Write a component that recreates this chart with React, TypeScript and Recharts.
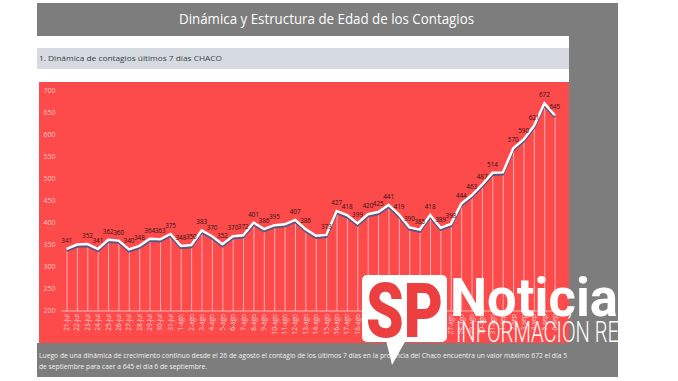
import { ComposedChart, Bar, Line, XAxis, YAxis, LabelList } from 'recharts'

// fechas del eje X
const DATES = [
  '21-jul', '22-jul', '23-jul', '24-jul', '25-jul', '26-jul', '27-jul', '28-jul', '29-jul', '30-jul', '31-jul',
  '1-ago', '2-ago', '3-ago', '4-ago', '5-ago', '6-ago', '7-ago', '8-ago', '9-ago', '10-ago',
  '11-ago', '12-ago', '13-ago', '14-ago', '15-ago', '16-ago', '17-ago', '18-ago', '19-ago', '20-ago',
  '21-ago', '22-ago', '23-ago', '24-ago', '25-ago', '26-ago', '27-ago', '28-ago', '29-ago', '30-ago', '31-ago',
  '1-sep', '2-sep', '3-sep', '4-sep', '5-sep', '6-sep',
]

// contagios últimos 7 días
const CASES = [
  341, 351, 352, 341, 362, 360, 340, 348, 364, 363, 375,
  348, 350, 383, 370, 352, 370, 372, 401, 386, 395,
  397, 407, 386, 371, 373, 427, 418, 399, 420, 425,
  441, 419, 390, 385, 418, 389, 398, 444, 463, 487, 514,
  515, 570, 590, 621, 672, 645,
]

// etiquetas que no aparecen en el original
const HIDDEN_LABELS = [1, 21, 24, 42]

const Y_TICKS = [200, 250, 300, 350, 400, 450, 500, 550, 600, 650, 700]

const TITLE = 'Dinámica y Estructura de Edad de los Contagios'
const SUBTITLE = '1. Dinámica de contagios últimos 7 días CHACO'
const NOTE = [
  'Luego de una dinámica de crecimiento continuo desde el 26 de agosto el contagio de los últimos 7 días en la provincia del Chaco encuentra un valor máximo 672 el día 5',
  'de septiembre para caer a 645 el día 6 de septiembre.',
]

const GRAY = '#7d7d7d'
const RED = '#fd4a4b'

const chartData = DATES.map((d, i) => ({ fecha: d, casos: CASES[i] }))

function DateTick({ x, y, payload }: any) {
  return (
    <text
      x={x}
      y={y}
      transform={`rotate(-90, ${x}, ${y})`}
      textAnchor="end"
      dy="0.35em"
      fontSize={6.5}
      fill="#fcd3d3"
      fontFamily="Open Sans"
    >
      {payload.value}
    </text>
  )
}

function ValueLabel({ x, y, value, index }: any) {
  if (HIDDEN_LABELS.includes(index)) return null
  return (
    <text x={x} y={y - 6} textAnchor="middle" fontSize={6.3} fill="#2a1414" fontFamily="Open Sans">
      {value}
    </text>
  )
}

export default function App() {
  return (
    <div
      style={{
        position: 'absolute',
        left: 0,
        top: 0,
        width: 678,
        height: 381,
        overflow: 'hidden',
        background: '#fff',
        fontFamily: 'Open Sans',
      }}
    >
      <style>{`.casos-line .recharts-line-curve { filter: drop-shadow(0px 2px 0px #5b5683); }`}</style>

      {/* fondo de la diapositiva */}
      <div style={{ position: 'absolute', left: 37, top: 3, width: 581, height: 374, background: GRAY }} />
      <div style={{ position: 'absolute', left: 37, top: 36, width: 532, height: 307, background: '#fff' }} />
      <div style={{ position: 'absolute', left: 37, top: 48, width: 532, height: 21, background: '#d6dbe2' }} />
      <div style={{ position: 'absolute', left: 39, top: 82, width: 530, height: 261, background: RED }} />

      <div style={{ position: 'absolute', left: 39, top: 82 }}>
        <ComposedChart width={530} height={261} data={chartData} margin={{ top: 9, right: 9, left: 0, bottom: 0 }}>
          <XAxis
            dataKey="fecha"
            interval={0}
            height={32}
            tickLine={false}
            tickSize={0}
            tickMargin={3}
            axisLine={{ stroke: '#f7b9b9' }}
            tick={<DateTick />}
          />
          <YAxis
            domain={[200, 700]}
            ticks={Y_TICKS}
            width={22.5}
            axisLine={false}
            tickLine={false}
            tickSize={0}
            tickMargin={6}
            tick={{ fontSize: 7, fill: '#f8c4c4', fontFamily: 'Open Sans' }}
          />
          <Bar dataKey="casos" barSize={1} fill="rgba(255,255,255,0.55)" isAnimationActive={false} />
          <Line
            className="casos-line"
            type="linear"
            dataKey="casos"
            stroke="#ffffff"
            strokeWidth={2.5}
            dot={false}
            isAnimationActive={false}
          >
            <LabelList dataKey="casos" content={<ValueLabel />} />
          </Line>
        </ComposedChart>
      </div>

      {/* textos y logo */}
      <svg width={678} height={381} style={{ position: 'absolute', left: 0, top: 0, pointerEvents: 'none' }}>
        <text x={179} y={24} fontSize={14} fill="#fff" fontFamily="Open Sans" textLength={295} lengthAdjust="spacingAndGlyphs">
          {TITLE}
        </text>
        <text x={39} y={61} fontSize={8} fill="#404040" fontFamily="Open Sans" textLength={183} lengthAdjust="spacingAndGlyphs">
          {SUBTITLE}
        </text>
        <text x={39} y={357.5} fontSize={6.5} fill="#f2f2f2" fontFamily="Open Sans" textLength={528} lengthAdjust="spacingAndGlyphs">
          {NOTE[0]}
        </text>
        <text x={39} y={369} fontSize={6.5} fill="#f2f2f2" fontFamily="Open Sans" textLength={168} lengthAdjust="spacingAndGlyphs">
          {NOTE[1]}
        </text>

        <rect x={362} y={275} width={85} height={67} rx={5} fill="#fff" />
        <polygon points="386,340 392,365 406,340" fill="#fff" />
        <text x={366} y={337} fontSize={76} fontWeight={900} fill="#ec4040" fontFamily="Roboto" textLength={77} lengthAdjust="spacingAndGlyphs">
          SP
        </text>
        <text x={450} y={316} fontSize={53} fontWeight={700} fill="#fff" fontFamily="Roboto" textLength={168} lengthAdjust="spacingAndGlyphs">
          Noticia
        </text>
        <text x={456} y={342} fontSize={29} fontWeight={300} fill="#fff" fontFamily="Roboto" textLength={163} lengthAdjust="spacingAndGlyphs">
          INFORMACIÓN RE
        </text>
      </svg>
    </div>
  )
}
